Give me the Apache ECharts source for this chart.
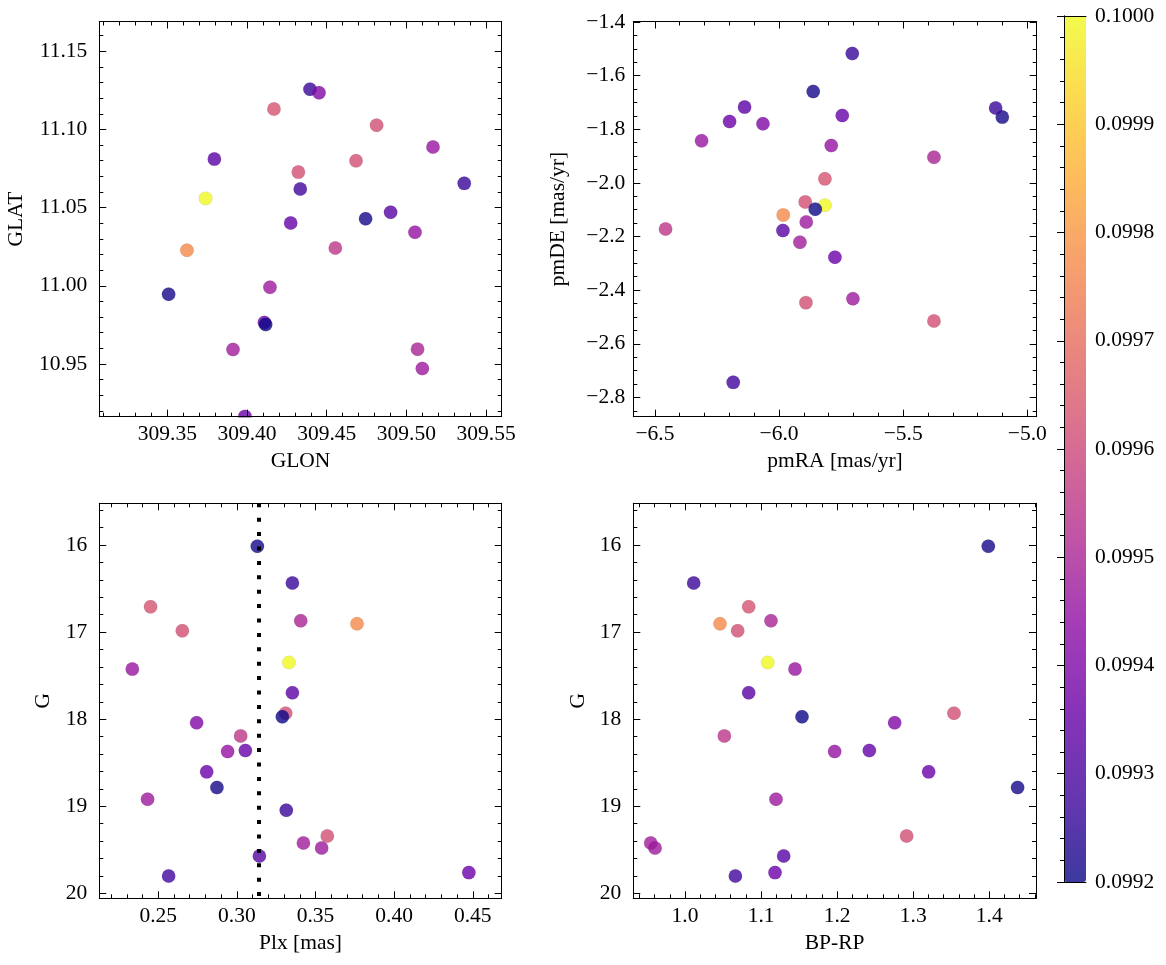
<!DOCTYPE html>
<html><head><meta charset="utf-8">
<script src="https://cdn.jsdelivr.net/npm/echarts@6/dist/echarts.min.js"></script>
<style>html,body{margin:0;padding:0;background:#fff}#c{width:1166px;height:965px}</style>
</head><body><div id="c"></div>
<script>
// ---- data (one entry per star) ----
const prob = [0.09921,0.09927,0.09963,0.09950,0.09977,0.09962,0.10000,0.09946,0.09933,0.09962,
              0.09941,0.09955,0.09945,0.09935,0.09936,0.09921,0.09947,0.09927,0.09962,0.09948,
              0.09947,0.09932,0.09936,0.09928,0.09920];
const glon = [309.4744,309.4395,309.4169,309.5070,309.3623,309.4813,309.3740,309.5167,309.3795,309.4684,
              309.4452,309.4554,309.5054,309.4274,309.4109,309.3508,309.4144,309.5363,309.4322,309.3912,
              309.5100,309.4901,309.3987,309.4334,309.4117];
const glat = [11.0429,11.1257,11.1130,10.9595,11.0227,11.1027,11.0559,11.0887,11.0810,11.0800,
              11.1234,11.0242,11.0342,11.0402,10.9765,10.9946,10.9991,11.0655,11.0727,10.9593,
              10.9471,11.0470,10.9165,11.0619,10.9752];
const pmra = [-5.8622,-5.7049,-5.8151,-5.3759,-5.9829,-5.8943,-5.8151,-6.3119,-6.1387,-5.8916,
              -6.0648,-6.4570,-5.7896,-5.7452,-6.1991,-5.1006,-5.8902,-5.1274,-5.3759,-5.9158,
              -5.7023,-5.9843,-5.7748,-6.1844,-5.8540];
const pmde = [-1.6588,-1.5170,-1.9849,-1.9040,-2.1193,-2.0708,-2.0832,-1.8430,-1.7173,-2.4466,
              -1.7795,-2.1716,-1.8608,-1.7484,-1.7708,-1.7546,-2.1455,-1.7210,-2.5150,-2.2214,
              -2.4317,-2.1778,-2.2773,-2.7439,-2.0982];
const plx  = [0.3130,0.3353,0.2451,0.3406,0.3764,0.2653,0.3331,0.2335,0.3353,0.3310,
              0.2744,0.3024,0.2941,0.3054,0.2808,0.2873,0.2432,0.3314,0.3575,0.3423,
              0.3539,0.3143,0.4475,0.2566,0.3289];
const gmag = [16.015,16.437,16.709,16.870,16.904,16.985,17.349,17.425,17.697,17.931,
              18.042,18.192,18.372,18.360,18.605,18.785,18.920,19.046,19.341,19.421,
              19.479,19.571,19.762,19.800,17.973];
const bprp = [1.3987,1.0114,1.0837,1.1130,1.0460,1.0692,1.1087,1.1446,1.0837,1.3536,
              1.2756,1.0517,1.1967,1.2423,1.3203,1.4372,1.1196,null,1.2913,0.9549,
              0.9606,1.1297,1.1183,1.0662,1.1538];
const plxRef = [0.3140];
const cbRange = [0.0992, 0.1000];

// ---- styling ----
const FONT = "'Liberation Serif', 'Times New Roman', serif";
const PLASMA = ['#0d0887','#41049d','#6a00a8','#8f0da4','#b12a90','#cc4778','#e16462','#f2844b','#fca636','#fcce25','#f0f921'];
function blend(hex, a){
  const n = parseInt(hex.slice(1),16);
  const r=(n>>16)&255,g=(n>>8)&255,b=n&255;
  const f=c=>Math.round(c*a+255*(1-a));
  return 'rgb('+f(r)+','+f(g)+','+f(b)+')';
}
const PLASMA_A = PLASMA.map(c=>blend(c,0.8));

function stepFmt(step, dec, minus){
  return function(v){
    const k = v/step;
    if (Math.abs(k-Math.round(k))>1e-6) return '';
    let s = v.toFixed(dec);
    if (minus) s = s.replace('-', '\u2212');
    return s;
  };
}
const txt = {fontFamily:FONT, fontSize:21.5, color:'#000'};
const lineS = {color:'#000', width:1};

function mkAxes(dim, g, range, majorSplit, minorSplit, fmt, name, nameGap, margin, inverse){
  const common = {gridIndex:g, type:'value', min:range[0], max:range[1], inverse:!!inverse,
                  splitLine:{show:false}, z:5};
  const p1 = dim==='x' ? 'bottom' : 'left';
  const p2 = dim==='x' ? 'top' : 'right';
  return [
    Object.assign({}, common, {position:p1, splitNumber:majorSplit,
      axisLine:{show:true,onZero:false,lineStyle:lineS},
      axisTick:{show:true,inside:true,length:7,lineStyle:lineS},
      axisLabel:Object.assign({show:true,margin:margin,formatter:fmt}, txt),
      name:name, nameLocation:'middle', nameGap:nameGap, nameTextStyle:txt}),
    Object.assign({}, common, {position:p1, splitNumber:minorSplit,
      axisLine:{show:false}, axisTick:{show:true,inside:true,length:4,lineStyle:lineS},
      axisLabel:{show:false}}),
    Object.assign({}, common, {position:p2, splitNumber:majorSplit,
      axisLine:{show:true,onZero:false,lineStyle:lineS},
      axisTick:{show:true,inside:true,length:7,lineStyle:lineS}, axisLabel:{show:false}}),
    Object.assign({}, common, {position:p2, splitNumber:minorSplit,
      axisLine:{show:false}, axisTick:{show:true,inside:true,length:4,lineStyle:lineS},
      axisLabel:{show:false}})
  ];
}

const grids = [
  {left:99.3, top:21.5, width:402.4, height:395.2},
  {left:633.3, top:21.5, width:403.4, height:395.2},
  {left:99.3, top:503.3, width:402.4, height:395},
  {left:633.3, top:503.3, width:402.7, height:395},
  {left:1064, top:16, width:22, height:866}
];

const xAxes = [].concat(
  mkAxes('x',0,[309.3073,309.5598],5,25,stepFmt(0.05,2),'GLON',34,7),
  mkAxes('x',1,[-6.587,-4.962],3,16,stepFmt(0.5,1,true),'pmRA [mas/yr]',34,7),
  mkAxes('x',2,[0.2125,0.4684],5,25,stepFmt(0.05,2),'Plx [mas]',34,7),
  mkAxes('x',3,[0.932,1.4614],5,26,stepFmt(0.1,1),'BP-RP',34,7),
  [
    {gridIndex:4,type:'value',min:0,max:1,position:'bottom',z:10,axisLine:{show:true,lineStyle:lineS},axisTick:{show:false},axisLabel:{show:false},splitLine:{show:false}},
    {gridIndex:4,type:'value',min:0,max:1,position:'top',z:10,axisLine:{show:true,lineStyle:lineS},axisTick:{show:false},axisLabel:{show:false},splitLine:{show:false}}
  ]
);
const yAxes = [].concat(
  mkAxes('y',0,[10.9163,11.169],5,25,stepFmt(0.05,2),'GLAT',72,12),
  mkAxes('y',1,[-2.872,-1.398],7,29,stepFmt(0.2,1,true),'pmDE [mas/yr]',64,8),
  mkAxes('y',2,[15.521,20.057],5,22,stepFmt(1,0),'G',45,12,true),
  mkAxes('y',3,[15.521,20.057],5,22,stepFmt(1,0),'G',44,12,true),
  [
    {gridIndex:4,type:'value',min:cbRange[0],max:cbRange[1],interval:0.0001,position:'right',z:10,
     axisLine:{show:true,lineStyle:lineS},
     axisTick:{show:true,inside:true,length:7,lineStyle:lineS},
     minorTick:{show:true,splitNumber:5,length:4,lineStyle:lineS},
     axisLabel:Object.assign({show:true,margin:9,formatter:v=>v.toFixed(4)},txt),
     splitLine:{show:false}},
    {gridIndex:4,type:'value',min:cbRange[0],max:cbRange[1],position:'left',z:10,
     axisLine:{show:true,lineStyle:lineS},axisTick:{show:false},axisLabel:{show:false},splitLine:{show:false}}
  ]
);

function pts(xs, ys){
  return xs.map((x,i)=>[x==null?'-':x, ys[i]==null?'-':ys[i], prob[i]]);
}
function sc(g, data){
  return {type:'scatter', xAxisIndex:4*g, yAxisIndex:4*g, data:data, symbolSize:13.5,
          itemStyle:{opacity:0.8, borderColor:'rgba(0,0,0,0.15)', borderWidth:0.6}, silent:true};
}
const series = [
  sc(0, pts(glon, glat)),
  sc(1, pts(pmra, pmde)),
  Object.assign(sc(2, pts(plx, gmag)), {markLine:{silent:true, symbol:['none','none'], animation:false,
     precision:6, z:10, label:{show:false},
     lineStyle:{color:'#000', width:4, type:[4,10.4], cap:'butt', opacity:1},
     data: plxRef.map(v=>({xAxis:v}))}}),
  sc(3, pts(bprp, gmag)),
  {type:'scatter', xAxisIndex:16, yAxisIndex:16, data:[]}
];

const chart = echarts.init(document.getElementById('c'), null, {renderer:'canvas'});
chart.setOption({
  animation:false,
  backgroundColor:'#fff',
  grid:grids,
  xAxis:xAxes,
  yAxis:yAxes,
  visualMap:{type:'continuous', min:cbRange[0], max:cbRange[1], dimension:2, seriesIndex:[0,1,2,3],
    left:1064, top:16, itemWidth:22, itemHeight:866, padding:0, calculable:false, realtime:false,
    hoverLink:false, text:null, showLabel:false,
    inRange:{color:PLASMA}, controller:{inRange:{color:PLASMA_A}}},
  graphic:[{type:'rect', z:100, silent:true, shape:{x:98, y:417.4, width:406, height:6}, style:{fill:'#fff'}}],
  series:series
});
</script></body></html>
